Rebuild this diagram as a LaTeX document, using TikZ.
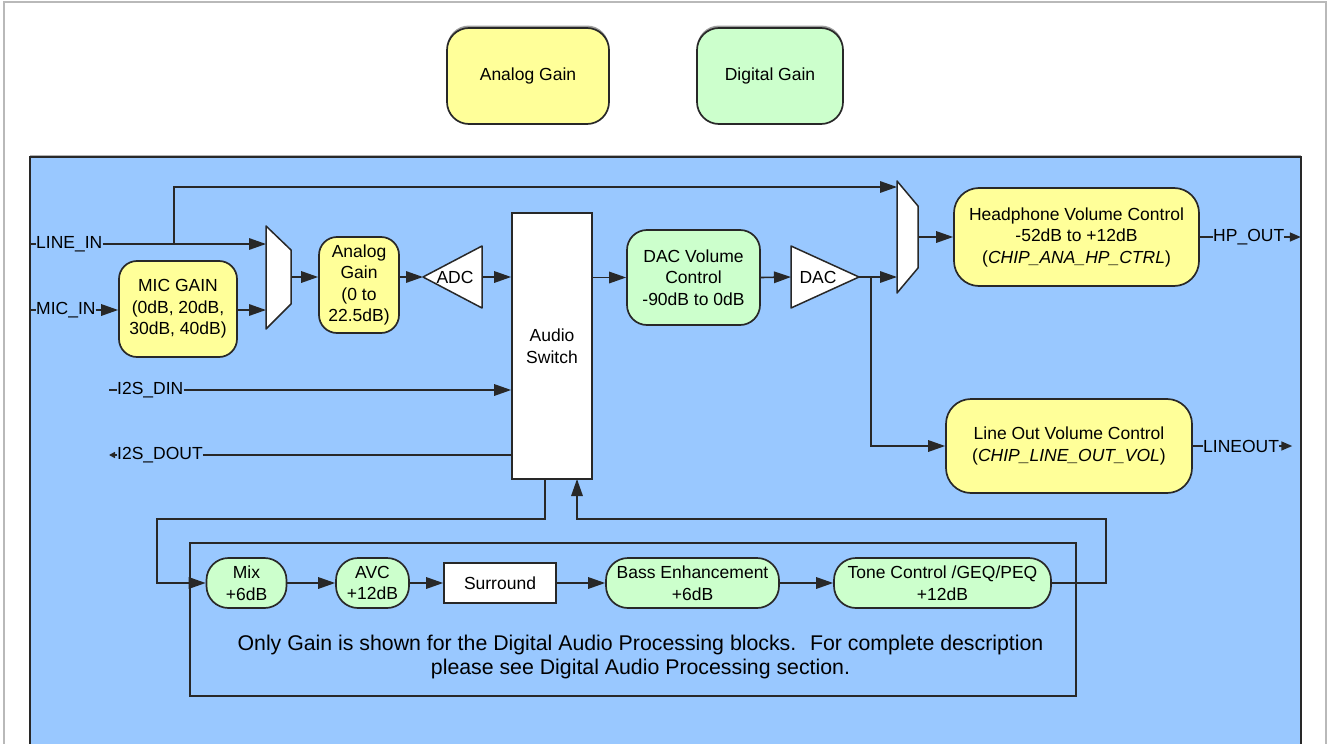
\documentclass[tikz,border=0pt]{standalone}
\usepackage{fontspec}
\setmainfont{Liberation Sans}
\usetikzlibrary{arrows.meta}
\definecolor{ygain}{RGB}{255,255,153}
\definecolor{dgain}{RGB}{204,255,204}
\definecolor{panelblue}{RGB}{153,200,255}
\definecolor{edge}{RGB}{40,40,40}
\tikzset{
  every node/.style={font=\fontsize{17.5}{21.5}\selectfont, text=black},
  boxbase/.style={draw=edge, line width=1.7pt, align=center, inner sep=0pt},
  ybox/.style={boxbase, fill=ygain, rounded corners=20pt},
  gbox/.style={boxbase, fill=dgain, rounded corners=20pt},
  wbox/.style={boxbase, fill=white},
  legendbox/.style={boxbase, rounded corners=22pt,
     preaction={fill=gray!75, rounded corners=22pt, transform canvas={yshift=2.5pt}}},
  conn/.style={draw=edge, line width=1.6pt},
  arr/.style={conn, -{Triangle[length=17pt,width=11.5pt]}},
  smallarr/.style={conn, -{Triangle[length=11pt,width=9pt]}},
  lbl/.style={inner sep=0pt, anchor=west},
  muxshape/.style={draw=edge, line width=1.5pt, fill=white, line join=round},
}
\begin{document}
\begin{tikzpicture}[x=1pt,y=-1pt]
\useasboundingbox (0,0) rectangle (1328,744);
% page frame
\draw[gray!55, line width=1.2pt] (4,750) -- (4,2) -- (1326,2) -- (1326,750);

% legend
\node[legendbox, fill=ygain, minimum width=162pt, minimum height=96pt] (leg1) at (528,76) {Analog Gain};
\node[legendbox, fill=dgain, minimum width=146pt, minimum height=96pt] (leg2) at (770,76) {Digital Gain};

% blue panel
\node[draw=edge, line width=1.6pt, fill=panelblue, minimum width=1271pt, minimum height=588pt,
      preaction={fill=gray!60, transform canvas={yshift=2pt}}] (panel) at (665.5,451) {};

% inner DAP frame
\node[draw=edge, line width=1.5pt, minimum width=886pt, minimum height=153pt] (dap) at (633,619.5) {};

% blocks
\node[ybox, minimum width=118pt, minimum height=96pt, rounded corners=18pt] (micgain) at (178,309) {MIC GAIN\\(0dB, 20dB,\\30dB, 40dB)};
\node[ybox, minimum width=80pt, minimum height=96pt, rounded corners=18pt] (again) at (359,285) {Analog\\Gain\\(0 to\\22.5dB)};
\node[wbox, minimum width=80pt, minimum height=266pt] (sw) at (552,346) {Audio\\Switch};
\node[gbox, minimum width=133pt, minimum height=95pt] (dacvol) at (693.5,277.5) {DAC Volume\\Control\\-90dB to 0dB};
\node[ybox, minimum width=245pt, minimum height=98pt, rounded corners=25pt] (hp) at (1076.5,237) {Headphone Volume Control\\-52dB to +12dB\\(\textit{CHIP\_ANA\_HP\_CTRL})};
\node[ybox, minimum width=246pt, minimum height=94pt, rounded corners=25pt] (lo) at (1069,446) {Line Out Volume Control\\(\textit{CHIP\_LINE\_OUT\_VOL})};

\node[gbox, minimum width=80pt, minimum height=50pt, rounded corners=22pt] (mix) at (246.5,583) {Mix\\+6dB};
\node[gbox, minimum width=73pt, minimum height=50pt, rounded corners=22pt] (avc) at (372.5,583) {AVC\\+12dB};
\node[wbox, minimum width=112pt, minimum height=40pt] (sur) at (500,583) {Surround};
\node[gbox, minimum width=173pt, minimum height=50pt, rounded corners=22pt] (bass) at (692.5,583) {Bass Enhancement\\+6dB};
\node[gbox, minimum width=217pt, minimum height=50pt, rounded corners=22pt] (tone) at (942.5,583) {Tone Control /GEQ/PEQ\\+12dB};

\node[align=center, font=\fontsize{21.3}{24}\selectfont] (note) at (640.5,657) {Only Gain is shown for the Digital Audio Processing blocks.~ For complete description\\please see Digital Audio Processing section.};

% mux 1
\draw[muxshape] (266,226) -- (291,250) -- (291,304) -- (266,329) -- cycle;
\coordinate (m1a) at (266,244);
\coordinate (m1b) at (266,310);
\coordinate (m1o) at (291,277);
% mux 2
\draw[muxshape] (897,181) -- (918,206) -- (918,268) -- (897,293) -- cycle;
\coordinate (m2a) at (897,187);
\coordinate (m2b) at (897,277);
\coordinate (m2o) at (918,237);

% ADC triangle
\draw[muxshape] (423,277) -- (482,246) -- (482,308) -- cycle;
\node (adc) at (455,277) {ADC};
\coordinate (adci) at (423,277);
\coordinate (adco) at (482,277);
% DAC triangle
\draw[muxshape] (791,246) -- (859,277) -- (791,308) -- cycle;
\node (dac) at (818,277) {DAC};
\coordinate (daci) at (791,277);
\coordinate (daco) at (859,277);

% labels
\node[lbl] (linein) at (36,244) {LINE\_IN};
\node[lbl] (micin) at (36,310) {MIC\_IN};
\node[lbl] (i2sdin) at (117,390) {I2S\_DIN};
\node[lbl] (i2sdout) at (117,455) {I2S\_DOUT};
\node[lbl] (hpout) at (1213,237) {HP\_OUT};
\node[lbl] (lineout) at (1203,446) {LINEOUT};
\coordinate (dintick) at (109,390);
\coordinate (douttick) at (109,455);

% connectors
\draw[conn] (panel.west |- linein) -- (linein.west);
\draw[conn] (panel.west |- micin) -- (micin.west);
\draw[arr] (linein.east) -- (m1a);
\coordinate (br1) at (174,244);
\draw[arr] (br1) |- (m2a);
\draw[arr] (micin.east) -- (micgain.west |- micin);
\draw[arr] (micgain.east |- m1b) -- (m1b);
\draw[arr] (m1o) -- (m1o -| again.west);
\draw[arr] (again.east |- adci) -- (adci);
\draw[arr] (adco) -- (adco -| sw.west);
\draw[arr] (sw.east |- dacvol.west) -- (dacvol.west);
\draw[arr] (dacvol.east) -- (daci);
\draw[arr] (daco) -- (m2b);
\coordinate (br2) at (871,277);
\draw[arr] (br2) |- (lo.west);
\draw[arr] (m2o) -- (m2o -| hp.west);
\draw[conn] (hp.east) -- (hpout.west);
\draw[smallarr] (hpout.east) -- ([xshift=-1pt]hpout.east -| panel.east);
\draw[conn] (lo.east) -- (lineout.west);
\draw[smallarr] (lineout.east) -- ([xshift=13pt]lineout.east);
\draw[conn] (dintick) -- (i2sdin.west);
\draw[arr] (i2sdin.east) -- (i2sdin.east -| sw.west);
\draw[conn] (i2sdout.east) -- (i2sdout.east -| sw.west);
\draw[conn, -{Triangle[length=6pt,width=6pt]}] (i2sdout.west) -- (douttick);

% loop
\coordinate (swo) at (545,479);
\coordinate (swi) at (577,479);
\coordinate (lpL) at (157,519);
\coordinate (lpR) at (1106,519);
\draw[arr] (swo) |- (lpL) |- (mix.west);
\draw[arr] (tone.east) -| (lpR) -| (swi);
\draw[arr] (mix.east) -- (avc.west);
\draw[arr] (avc.east) -- (sur.west);
\draw[arr] (sur.east) -- (bass.west);
\draw[arr] (bass.east) -- (tone.west);
\end{tikzpicture}
\end{document}
